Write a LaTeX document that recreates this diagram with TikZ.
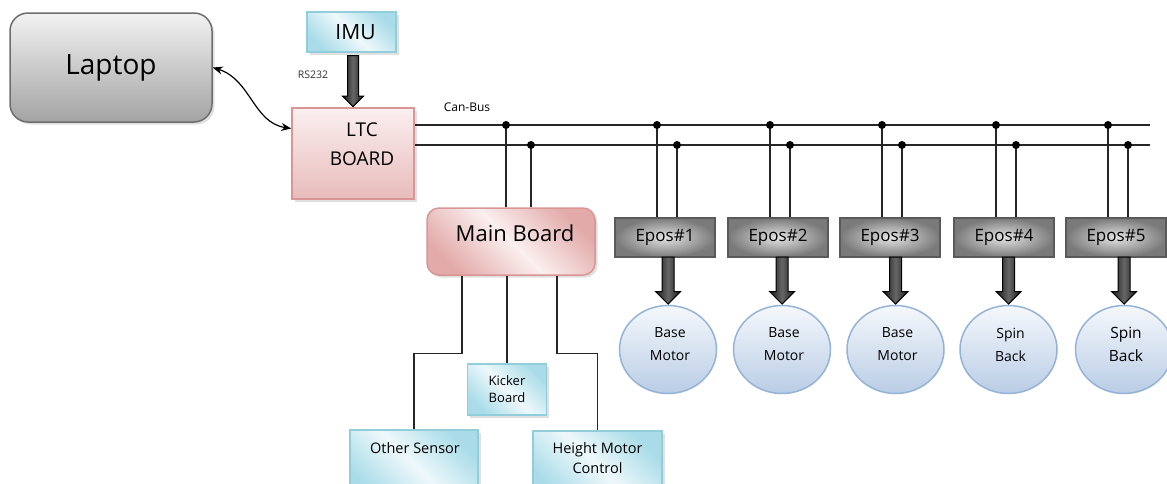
\documentclass[tikz,border=0pt]{standalone}
\usepackage{fontspec}
\setmainfont{Open Sans}
\usepackage{tikz}
\usetikzlibrary{shapes.arrows, shapes.geometric, shadows, calc, arrows.meta}
\tikzset{>=stealth}
\usepackage{xcolor}
\definecolor{lapedge}{HTML}{6E6E6E}
\definecolor{laptop}{HTML}{F2F2F2}
\definecolor{lapbot}{HTML}{A3A3A3}
\definecolor{pinkedge}{HTML}{D99694}
\definecolor{pinkdark}{HTML}{E2ABAA}
\definecolor{pinklight}{HTML}{FBEFEF}
\definecolor{cyanedge}{HTML}{92CDDC}
\definecolor{cyandark}{HTML}{A9DCE8}
\definecolor{cyanlight}{HTML}{EEF8FB}
\definecolor{eposedge}{HTML}{5A5A5A}
\definecolor{eposdark}{HTML}{7A7A7A}
\definecolor{eposlight}{HTML}{E4E4E4}
\definecolor{motoredge}{HTML}{95B3D7}
\definecolor{motortop}{HTML}{F5F8FC}
\definecolor{motorbot}{HTML}{B9CDE5}
\newcommand{\fsz}[2]{\fontsize{#1}{#2}\selectfont}
\tikzset{
  box/.style={draw, line width=1.5, inner sep=0, align=center},
  shadowed/.style={drop shadow={shadow xshift=2.5pt, shadow yshift=-2.5pt, fill=black, opacity=0.12}},
  lapbox/.style={box, shadowed, draw=lapedge, rounded corners=18, top color=laptop, bottom color=lapbot},
  pinkbox/.style={box, shadowed, draw=pinkedge, top color=pinklight, bottom color=pinkdark!80},
  mainbox/.style={box, shadowed, draw=pinkedge, rounded corners=12, top color=pinkdark, bottom color=pinkdark, middle color=pinklight, shading angle=-45},
  cyanbox/.style={box, shadowed, draw=cyanedge, top color=cyandark, bottom color=cyandark, middle color=cyanlight, shading angle=-45},
  eposbox/.style={box, draw=eposedge, inner color=eposlight, outer color=eposdark, minimum width=100, minimum height=39, font=\fsz{17}{20}},
  motor/.style={ellipse, draw=motoredge, line width=1.5, top color=motortop, bottom color=motorbot, minimum width=97, minimum height=88, inner sep=0},
  bigarrow/.style={single arrow, draw=black, line width=1, shape border rotate=270, anchor=tip, left color=black!90, right color=black!90, middle color=black!60, inner sep=5.5, minimum width=24, single arrow head extend=6.5, minimum height=47},
  bus/.style={line width=1.5, black!85},
  wire/.style={line width=1.4, black!85},
  dot/.style={circle, fill=black, inner sep=0, minimum size=8}
}

\begin{document}
\begin{tikzpicture}[x=1pt, y=-1pt]
\clip (0,0) rectangle (1167,483);
\fill[white] (0,0) rectangle (1167,483);

\node[lapbox, minimum width=202, minimum height=109, font=\fsz{28}{32}] (laptop) at (111,67.5) {Laptop};
\node[cyanbox, minimum width=89, minimum height=40, label={[font=\fsz{21}{24}, xshift=4]center:IMU}] (imu) at (351.5,32) {};
\node[pinkbox, minimum width=122, minimum height=91, label={[font=\fsz{19}{29}, align=center, xshift=9, yshift=9]center:LTC\\BOARD}] (ltc) at (353,153.5) {};
\node[bigarrow, inner sep=5, minimum width=20, single arrow head extend=5, minimum height=51] (imuarr) at (ltc.north) {};
\node[font=\fsz{10.5}{12}, text=black!80] (rs) at (313,75) {RS232};
\draw[{Stealth[length=10,width=8]}-{Stealth[length=10,width=8]}, line width=1.2] (laptop.east) .. controls +(38,12) and +(-38,-6) .. ([yshift=25]ltc.west);

% can bus
\node[font=\fsz{12}{14}] (canbus) at (467,107) {Can-Bus};
\coordinate (can1) at (1150,125);
\coordinate (can2) at (1150,145);
\draw[bus] (ltc.east |- can1) -- (can1);
\draw[bus] (ltc.east |- can2) -- (can2);

\node[mainbox, minimum width=168, minimum height=67, label={[font=\fsz{22}{26}, xshift=4, yshift=8.5]center:Main Board}] (main) at (511,241.5) {};
\draw[bus] ([xshift=-5]main.north) -- ([xshift=-5]main.north |- can1) node[dot]{};
\draw[bus] ([xshift=20]main.north) -- ([xshift=20]main.north |- can2) node[dot]{};

\foreach \n/\ex/\mx/\la/\lb/\fs in {1/665/668/Base/Motor/14, 2/778/782/Base/Motor/14, 3/890/895.5/Base/Motor/14, 4/1004/1008.5/Spin/Back/14, 5/1116/1124/Spin/Back/15.5} {
  \node[eposbox] (epos\n) at (\ex,237.5) {Epos\#\n};
  \node[motor, label={[font=\fsz{\fs}{23}, align=center, xshift=2, yshift=5]center:\la\\\lb}] (mot\n) at (\mx,349.5) {};
  \node[bigarrow] (arr\n) at (mot\n.north) {};
  \draw[bus] ([xshift=-8]epos\n.north) -- ([xshift=-8]epos\n.north |- can1) node[dot]{};
  \draw[bus] ([xshift=12]epos\n.north) -- ([xshift=12]epos\n.north |- can2) node[dot]{};
}

% devices under the main board
\node[cyanbox, minimum width=79, minimum height=51, font=\fsz{13}{17}] (kicker) at (507,389.5) {Kicker\\Board};
\node[cyanbox, minimum width=128, minimum height=70, label={[font=\fsz{14.5}{20}, xshift=1, yshift=17]center:Other Sensor}] (other) at (414,465) {};
\node[cyanbox, minimum width=129, minimum height=70, label={[font=\fsz{14.5}{20}, align=center, yshift=8]center:Height Motor\\Control}] (height) at (597.5,466) {};
\draw[wire] ([xshift=-49]main.south) -- ++(0,78) -| (other.north);
\draw[wire] (kicker.north |- main.south) -- (kicker.north);
\draw[wire] ([xshift=46]main.south) -- ++(0,78) -| (height.north);
\end{tikzpicture}
\end{document}
